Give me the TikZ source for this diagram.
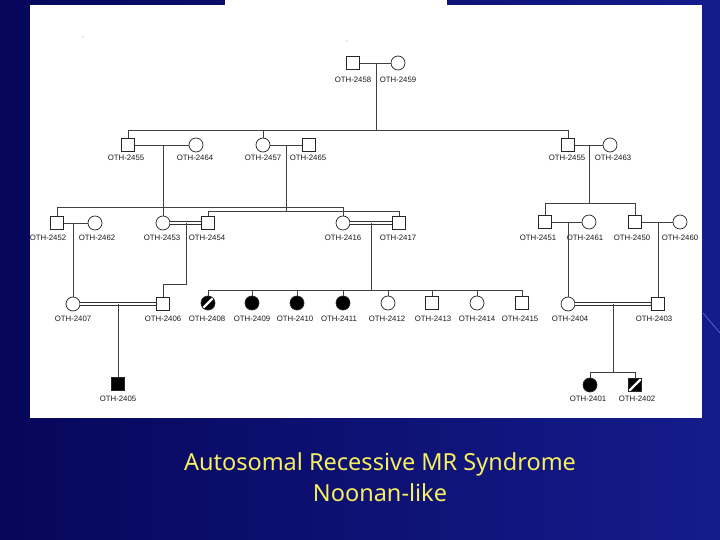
\documentclass[tikz,border=0pt]{standalone}
\usepackage{fontspec}
\newfontfamily\labfont{Liberation Sans}
\newfontfamily\capfont{Noto Sans}
\usetikzlibrary{positioning}

\definecolor{slideL}{RGB}{6,6,90}
\definecolor{slideM}{RGB}{32,44,172}
\definecolor{slideR}{RGB}{20,28,140}
\definecolor{capyel}{RGB}{246,238,96}

\begin{document}
\begin{tikzpicture}[
  x=1pt, y=-1pt,
  male/.style={draw=black!85, line width=0.7pt, fill=white, minimum size=13pt, inner sep=0pt},
  female/.style={circle, draw=black!85, line width=0.7pt, fill=white, minimum size=14pt, inner sep=0pt},
  aff/.style={fill=black},
  hatch/.style={fill=black, path picture={\draw[white, line width=2.4pt]
      (path picture bounding box.south west) -- (path picture bounding box.north east);}},
  lab/.style={font=\labfont\fontsize{7.8}{9}\selectfont, text=black!90, inner sep=0pt},
  ln/.style={draw=black!75, line width=0.7pt},
  dbl/.style={draw=black!80, line width=0.6pt, double=white, double distance=2.2pt},
  captxt/.style={font=\capfont\fontsize{23.5}{28}\selectfont, text=capyel, inner sep=0pt}
]
\useasboundingbox (0,0) rectangle (720,540);

% ---- slide background and panel ----
\shade[left color=slideL, middle color=slideM, right color=slideR] (0,0) rectangle (720,540);
\draw[blue!35!white, line width=0.6pt, opacity=0.6] (703,313) -- (720,333);
\fill[white] (30,5) rectangle (702,418);
\fill[white] (225,0) rectangle (447,5);
\fill[black!35] (83,37) circle (0.6);
\fill[black!35] (347,41) circle (0.6);

% ---- generation I ----
\node[male]   (p2458) at (353,63) {};
\node[female] (p2459) at (398,63) {};
\node[lab] (l2458) at (353,79.5) {OTH-2458};
\node[lab] (l2459) at (398,79.5) {OTH-2459};

% ---- generation II ----
\node[male]   (p2455a) at (128,145) {};
\node[female] (p2464)  at (196,145) {};
\node[female] (p2457)  at (263,145) {};
\node[male]   (p2465)  at (309,145) {};
\node[male]   (p2455b) at (568,145) {};
\node[female] (p2463)  at (610,145) {};
\node[lab] (l2455a) at (126,157.5) {OTH-2455};
\node[lab] (l2464)  at (195,157.5) {OTH-2464};
\node[lab] (l2457)  at (263,157.5) {OTH-2457};
\node[lab] (l2465)  at (308,157.5) {OTH-2465};
\node[lab] (l2455b) at (567,157.5) {OTH-2455};
\node[lab] (l2463)  at (613,157.5) {OTH-2463};

% ---- generation III ----
\node[male]   (p2452) at (57,223) {};
\node[female] (p2462) at (95,223) {};
\node[female] (p2453) at (163,223) {};
\node[male]   (p2454) at (208,223) {};
\node[female] (p2416) at (343,223) {};
\node[male]   (p2417) at (399,223) {};
\node[male]   (p2451) at (545,222) {};
\node[female] (p2461) at (589,222) {};
\node[male]   (p2450) at (635,222) {};
\node[female] (p2460) at (680,222) {};
\node[lab] (l2452) at (48,237.5) {OTH-2452};
\node[lab] (l2462) at (97,237.5) {OTH-2462};
\node[lab] (l2453) at (162,237.5) {OTH-2453};
\node[lab] (l2454) at (207,237.5) {OTH-2454};
\node[lab] (l2416) at (343,237.5) {OTH-2416};
\node[lab] (l2417) at (398,237.5) {OTH-2417};
\node[lab] (l2451) at (538,237.5) {OTH-2451};
\node[lab] (l2461) at (585,237.5) {OTH-2461};
\node[lab] (l2450) at (632,237.5) {OTH-2450};
\node[lab] (l2460) at (680,237.5) {OTH-2460};

% ---- generation IV ----
\node[female] (p2407) at (73,304) {};
\node[male]   (p2406) at (163,304) {};
\node[female, hatch] (p2408) at (208,303) {};
\node[female, aff]   (p2409) at (252,303) {};
\node[female, aff]   (p2410) at (297,303) {};
\node[female, aff]   (p2411) at (343,303) {};
\node[female] (p2412) at (388,303) {};
\node[male]   (p2413) at (432,303) {};
\node[female] (p2414) at (477,303) {};
\node[male]   (p2415) at (522,303) {};
\node[female] (p2404) at (568,304) {};
\node[male]   (p2403) at (658,304) {};
\node[lab] (l2407) at (73,319) {OTH-2407};
\node[lab] (l2406) at (163,319) {OTH-2406};
\node[lab] (l2408) at (207,319) {OTH-2408};
\node[lab] (l2409) at (252,319) {OTH-2409};
\node[lab] (l2410) at (295,319) {OTH-2410};
\node[lab] (l2411) at (339,319) {OTH-2411};
\node[lab] (l2412) at (387,319) {OTH-2412};
\node[lab] (l2413) at (433,319) {OTH-2413};
\node[lab] (l2414) at (477,319) {OTH-2414};
\node[lab] (l2415) at (520,319) {OTH-2415};
\node[lab] (l2404) at (570,319) {OTH-2404};
\node[lab] (l2403) at (654,319) {OTH-2403};

% ---- generation V ----
\node[male, aff]     (p2405) at (118,384) {};
\node[female, aff]   (p2401) at (590,385) {};
\node[male, hatch]   (p2402) at (635,385) {};
\node[lab] (l2405) at (118,399) {OTH-2405};
\node[lab] (l2401) at (588,399) {OTH-2401};
\node[lab] (l2402) at (637,399) {OTH-2402};

% ---- sibship levels ----
\coordinate (s2)  at (376,130);
\coordinate (s3a) at (163,207);
\coordinate (s3b) at (286,211);
\coordinate (s3c) at (589,203);
\coordinate (k4)  at (186,284);
\coordinate (s4)  at (371,290);
\coordinate (s5)  at (613,372);

% ---- marriages ----
\draw[ln] (p2458) -- (p2459);
\draw[ln] (p2455a) -- (p2464);
\draw[ln] (p2457) -- (p2465);
\draw[ln] (p2455b) -- (p2463);
\draw[ln] (p2452) -- (p2462);
\draw[dbl] (p2453) -- (p2454);
\draw[dbl] (p2416) -- (p2417);
\draw[ln] (p2451) -- (p2461);
\draw[ln] (p2450) -- (p2460);
\draw[dbl] (p2407) -- (p2406);
\draw[dbl] (p2404) -- (p2403);

% ---- descent: generation I -> II ----
\draw[ln] (s2 |- p2458.center) -- (s2);
\draw[ln] (p2455a.north) -- (p2455a.north |- s2) -- (p2455b.north |- s2) -- (p2455b.north);
\draw[ln] (p2457.north |- s2) -- (p2457.north);

% ---- descent: generation II -> III ----
\draw[ln] (s3a |- p2455a.center) -- (p2453.north);
\draw[ln] (p2452.north) -- (p2452.north |- s3a) -- (p2416.north |- s3a) -- (p2416.north);
\draw[ln] (s3b |- p2457.center) -- (s3b);
\draw[ln] (p2454.north) -- (p2454.north |- s3b) -- (p2417.north |- s3b) -- (p2417.north);
\draw[ln] (s3c |- p2455b.center) -- (s3c);
\draw[ln] (p2451.north) -- (p2451.north |- s3c) -- (p2450.north |- s3c) -- (p2450.north);

% ---- descent: generation III -> IV ----
\draw[ln] (p2407.north |- p2452.center) -- (p2407.north);
\draw[ln] (k4 |- p2453.center) -- (k4) -| (p2406.north);
\draw[ln] (s4 |- p2416.center) -- (s4);
\draw[ln] (p2408.north |- s4) -- (p2415.north |- s4);
\foreach \c in {p2408,p2409,p2410,p2411,p2412,p2413,p2414,p2415}
  \draw[ln] (\c.north |- s4) -- (\c.north);
\draw[ln] (p2404.north |- p2451.center) -- (p2404.north);
\draw[ln] (p2403.north |- p2450.center) -- (p2403.north);

% ---- descent: generation IV -> V ----
\draw[ln] (p2405.north |- p2407.center) -- (p2405.north);
\draw[ln] (s5 |- p2404.center) -- (s5);
\draw[ln] (p2401.north) -- (p2401.north |- s5) -- (p2402.north |- s5) -- (p2402.north);

% ---- caption ----
\node[captxt] (t1) at (380,464) {Autosomal Recessive MR Syndrome};
\node[captxt] (t2) at (380,493) {Noonan-like};
\end{tikzpicture}
\end{document}
